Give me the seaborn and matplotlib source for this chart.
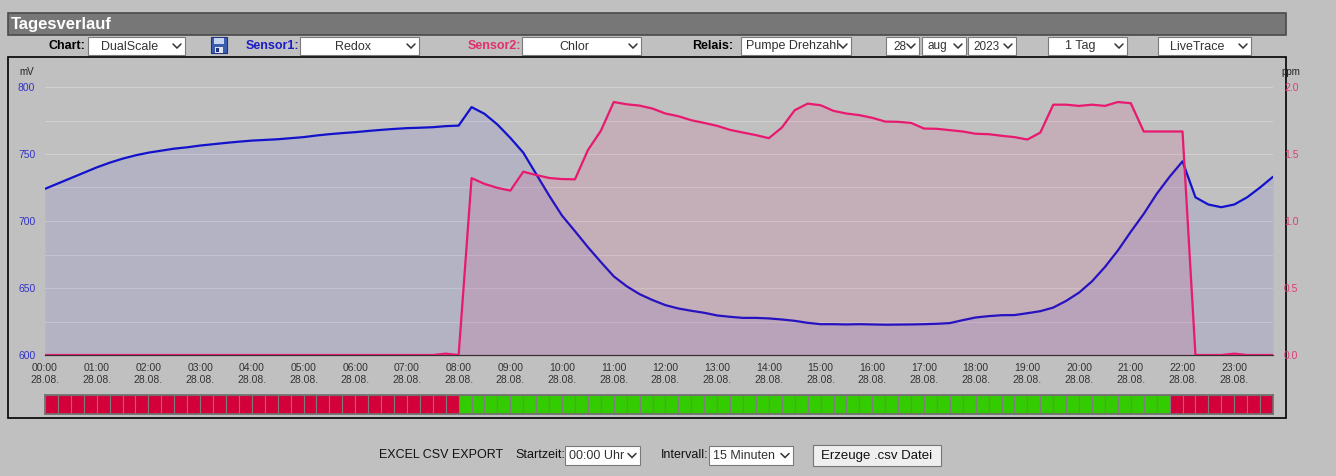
import numpy as np
import matplotlib
matplotlib.use("Agg")
import matplotlib.pyplot as plt
import seaborn as sns
from matplotlib.patches import Rectangle

# ---------------- data ----------------
times_h = np.arange(0, 24, 0.25)          # 15-minute samples, 00:00 .. 23:45

redox_mv = [
    724, 728, 732, 736, 740, 743.5, 746.5, 749,
    751, 752.5, 754, 755, 756.3, 757.3, 758.3, 759.2,
    760, 760.5, 761, 761.8, 762.6, 763.8, 764.8, 765.6,
    766.3, 767.2, 768, 768.7, 769.3, 769.6, 770, 770.8,
    771.2, 785, 780, 772, 762, 751, 735, 719,
    704, 692.4, 680.5, 669.4, 658.7, 651.3, 645.4, 641,
    637.2, 634.7, 633, 631.5, 629.5, 628.5, 627.7, 627.7,
    627.3, 626.5, 625.5, 624, 623, 623, 622.8, 623,
    622.8, 622.6, 622.7, 622.8, 623, 623.3, 623.8, 626,
    628, 629, 629.7, 629.8, 631.2, 632.7, 635.4, 640.4,
    646.6, 655, 665.7, 678, 692, 705.3, 720.2, 733,
    744.5, 717.7, 712.3, 710.3, 712.3, 717.7, 725, 733,
]

chlor_ppm = [
    0, 0, 0, 0, 0, 0, 0, 0,
    0, 0, 0, 0, 0, 0, 0, 0,
    0, 0, 0, 0, 0, 0, 0, 0,
    0, 0, 0, 0, 0, 0, 0, 0.01,
    0, 1.32, 1.277, 1.247, 1.227, 1.368, 1.343, 1.321,
    1.313, 1.311, 1.529, 1.673, 1.888, 1.871, 1.861, 1.839,
    1.802, 1.782, 1.752, 1.732, 1.710, 1.680, 1.660, 1.641,
    1.618, 1.697, 1.827, 1.876, 1.864, 1.822, 1.802, 1.790,
    1.770, 1.742, 1.740, 1.732, 1.690, 1.688, 1.678, 1.668,
    1.651, 1.648, 1.636, 1.626, 1.608, 1.660, 1.868, 1.868,
    1.859, 1.868, 1.859, 1.888, 1.879, 1.668, 1.668, 1.668,
    1.668, 0, 0, 0, 0.01, 0, 0, 0,
]

relay_state = [0] * 32 + [1] * 55 + [0] * 8   # Pumpe Drehzahl, per 15 min

hour_ticks = list(range(24))
hour_labels = [f"{h:02d}:00\n28.08." for h in hour_ticks]
mv_ticks = [600, 650, 700, 750, 800]
mv_minor = [625, 675, 725, 775]
ppm_ticks = [0.0, 0.5, 1.0, 1.5, 2.0]

# ---------------- style ----------------
sns.set_theme(style="white")
plt.rcParams["font.family"] = ["Liberation Sans", "DejaVu Sans"]

BG = "#c0c0c0"
BLUE = "#1212cc"
PINK = "#e8196e"

W, H = 1336, 476
fig = plt.figure(figsize=(W / 100, H / 100), dpi=100, facecolor=BG)

# UI overlay in pixel coordinates
ui = fig.add_axes([0, 0, 1, 1])
ui.set_xlim(0, W)
ui.set_ylim(H, 0)
ui.axis("off")
ui.set_zorder(0)
ui.patch.set_alpha(0)

# title bar
ui.add_patch(Rectangle((8, 13), 1278, 22, fc="#777777", ec="#4a4a4a", lw=1.2))
ui.text(11, 24, "Tagesverlauf", color="white", fontsize=12, fontweight="bold",
        va="center", ha="left")


def chevron(cx, cy):
    ui.plot([cx - 4, cx, cx + 4], [cy - 2, cy + 2, cy - 2], color="#333333",
            lw=1.1, solid_capstyle="round", solid_joinstyle="miter")


def dropdown(x0, x1, y0, y1, text, tx=None, ha="center", clip=None, size=9):
    ui.add_patch(Rectangle((x0, y0), x1 - x0, y1 - y0, fc="white",
                           ec="#7a7a7a", lw=0.8))
    cy = (y0 + y1) / 2
    chevron(x1 - 8, cy)
    if tx is None:
        tx = (x0 + x1 - 14) / 2
    t = ui.text(tx, cy + 0.5, text, fontsize=size, color="#333333", ha=ha,
                va="center")
    if clip is not None:
        cp = Rectangle((x0, y0), clip - x0, y1 - y0, transform=ui.transData)
        t.set_clip_path(cp)


def label(x, y, text, color="black", ha="right", bold=True, size=9):
    ui.text(x, y, text, color=color, ha=ha, va="center", fontsize=size,
            fontweight="bold" if bold else "normal")


# controls row
cy = 46
label(85, cy, "Chart:")
dropdown(88, 185, 37, 55, "DualScale")
# save icon
ui.add_patch(Rectangle((211, 37), 16, 16, fc="#3b5db0", ec="#22357a", lw=0.8))
ui.add_patch(Rectangle((214, 38), 10, 6, fc="#c8d4ee", ec="none"))
ui.add_patch(Rectangle((215, 47), 8, 6, fc="#dde3f0", ec="none"))
ui.add_patch(Rectangle((216, 48), 3, 4, fc="#22357a", ec="none"))
label(299, cy, "Sensor1:", color="#1c1cc4")
dropdown(300, 419, 37, 55, "Redox")
label(521, cy, "Sensor2:", color="#e0306c")
dropdown(522, 641, 37, 55, "Chlor")
label(733, cy, "Relais:")
dropdown(741, 851, 37, 55, "Pumpe Drehzahl", tx=746, ha="left", clip=837)
dropdown(886, 919, 37, 55, "28", tx=893, ha="left", size=8.5)
dropdown(922, 966, 37, 55, "aug", tx=928, ha="left", size=8.5)
dropdown(968, 1016, 37, 55, "2023", tx=973, ha="left", size=8.5)
dropdown(1048, 1127, 37, 55, "1 Tag")
dropdown(1158, 1251, 37, 55, "LiveTrace")

# chart frame
ui.add_patch(Rectangle((8, 57), 1278, 361, fc="none", ec="black", lw=1.2))
ui.text(27, 72, "mV", fontsize=7, color="#222222", ha="center", va="center")
ui.text(1291, 72, "ppm", fontsize=7, color="#222222", ha="center", va="center")

# bottom export controls
label(379, 455, "EXCEL CSV EXPORT", color="#111111", ha="left", bold=False)
label(515, 455, "Startzeit:", color="#111111", ha="left", bold=False)
dropdown(565, 640, 446, 465, "00:00 Uhr", tx=569, ha="left", clip=630)
label(661, 455, "Intervall:", color="#111111", ha="left", bold=False)
dropdown(709, 793, 446, 465, "15 Minuten", tx=713, ha="left", clip=783)
ui.add_patch(Rectangle((813, 445), 128, 21, fc="#efefef", ec="#767676", lw=0.8))
ui.text(877, 455.5, "Erzeuge .csv Datei", fontsize=9.5, color="#111111",
        ha="center", va="center")

# ---------------- main chart ----------------
ax = fig.add_axes([45 / W, 1 - 355 / H, 1228 / W, 268 / H])
ax.set_zorder(1)
ax.patch.set_alpha(0)

ax.set_yticks(mv_ticks)
ax.set_yticks(mv_minor, minor=True)
ax.grid(True, which="both", axis="y", color="#d2d2d2", lw=0.7)
ax.grid(False, axis="x")
ax.set_axisbelow(True)

ax.fill_between(times_h, 600, redox_mv, color="#2a2aee", alpha=0.085, lw=0)
sns.lineplot(x=times_h, y=redox_mv, ax=ax, color=BLUE, lw=1.6, legend=False)
ax.set_xlim(0, 23.75)
ax.set_ylim(600, 800)
ax.set_xticks(hour_ticks)
ax.set_xticklabels(hour_labels)
ax.set_yticklabels([str(v) for v in mv_ticks])
ax.tick_params(axis="x", length=0, pad=6, labelsize=7.5, labelcolor="#333333")
ax.tick_params(axis="y", which="both", length=0, pad=7, labelsize=7.5,
               labelcolor="#3333cc")
ax.set_xlabel("")
ax.set_ylabel("")
for s in ["top", "left", "right"]:
    ax.spines[s].set_visible(False)
ax.spines["bottom"].set_color("#333333")
ax.spines["bottom"].set_linewidth(0.9)

ax2 = ax.twinx()
ax2.patch.set_alpha(0)
ax2.fill_between(times_h, 0, chlor_ppm, color=PINK, alpha=0.10, lw=0)
sns.lineplot(x=times_h, y=chlor_ppm, ax=ax2, color=PINK, lw=1.6, legend=False)
ax2.set_ylim(0, 2.0)
ax2.set_yticks(ppm_ticks)
ax2.set_yticklabels([f"{v:.1f}" for v in ppm_ticks])
ax2.tick_params(axis="y", length=0, pad=8, labelsize=7.5, labelcolor="#e03a78")
ax2.set_ylabel("")
ax2.grid(False)
for s in ["top", "left", "right", "bottom"]:
    ax2.spines[s].set_visible(False)

# ---------------- relay bar ----------------
rax = fig.add_axes([45 / W, 1 - 414 / H, 1228 / W, 19 / H])
relay_times = times_h[: len(relay_state)]
relay_colors = ["#33cc00" if s else "#d3003a" for s in relay_state]
rax.bar(relay_times, [1] * len(relay_state), width=0.25, align="edge",
        color=relay_colors, edgecolor="#7d7d7d", lw=0.8)
rax.set_xlim(0, 23.75)
rax.set_ylim(0, 1)
rax.set_xticks([])
rax.set_yticks([])
for s in rax.spines.values():
    s.set_color("#6e6e6e")
    s.set_linewidth(1.2)

fig.savefig("out.png", dpi=100, facecolor=BG)
